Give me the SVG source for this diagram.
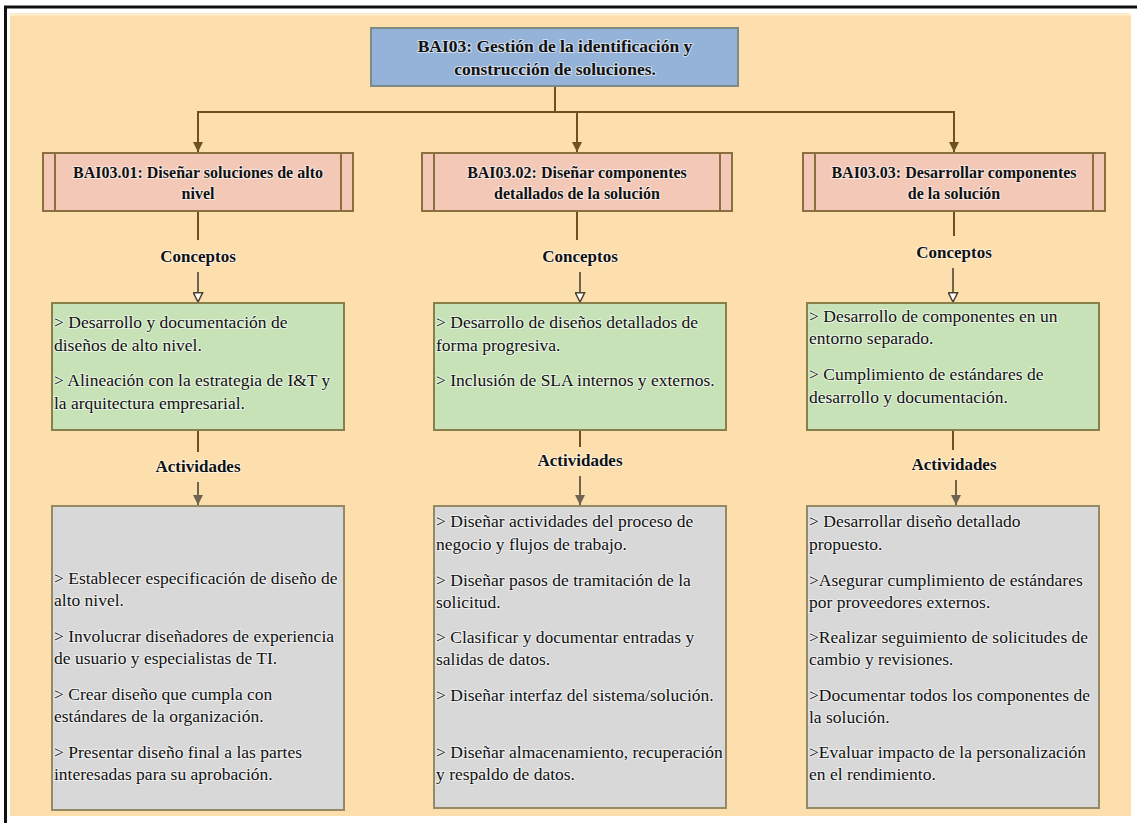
<svg xmlns="http://www.w3.org/2000/svg" width="1137" height="823" viewBox="0 0 1137 823">
  <style>
    text { font-family: "Liberation Serif", "Times New Roman", serif; fill: #111; paint-order: stroke; stroke: #ffffff; stroke-opacity: 0.55; stroke-width: 2.2px; stroke-linejoin: round; }
    .title { font-size: 17.5px; font-weight: bold; text-anchor: middle; }
    .head { font-size: 16px; font-weight: bold; text-anchor: middle; }
    .label { font-size: 17px; font-weight: bold; text-anchor: middle; }
    .body { font-size: 17.5px; }
    .root { fill: #95b3d8; stroke: #7e8a86; stroke-width: 2; }
    .proc { fill: #f3c8b7; stroke: #8b6f3e; stroke-width: 2; }
    .bar { stroke: #8b6f3e; stroke-width: 2; fill: none; }
    .concept { fill: #c6e2b6; stroke: #87804a; stroke-width: 2; }
    .activity { fill: #d8d8d8; stroke: #948a66; stroke-width: 2; }
    .wire { stroke: #6d5120; stroke-width: 2; fill: none; }
    .wire-grey { stroke: #6f6450; stroke-width: 2; fill: none; }
  </style>
  <defs>
    <marker id="arrow-solid" viewBox="0 0 10 10" refX="10" refY="5" markerWidth="5" markerHeight="5" orient="auto" markerUnits="strokeWidth">
      <path d="M0,0 L10,5 L0,10 z" fill="#6d5120"/>
    </marker>
    <marker id="arrow-grey" viewBox="0 0 10 10" refX="10" refY="5" markerWidth="5" markerHeight="5" orient="auto" markerUnits="strokeWidth">
      <path d="M0,0 L10,5 L0,10 z" fill="#6f6450"/>
    </marker>
    <marker id="arrow-open" viewBox="0 0 12 12" refX="11" refY="6" markerWidth="5.5" markerHeight="5.5" orient="auto" markerUnits="strokeWidth">
      <path d="M1,1 L11,6 L1,11 z" fill="#ffffff" stroke="#4a4030" stroke-width="1.6"/>
    </marker>
  </defs>

  <!-- page frame -->
  <rect x="0" y="0" width="1137" height="823" fill="#ffffff"/>
  <rect x="10" y="13" width="1121" height="803" fill="#fddead"/>
  <line x1="10" y1="14.5" x2="1131" y2="14.5" stroke="#fff0d6" stroke-width="2"/>
  <polyline points="5.5,823 5.5,7 1137,7" fill="none" stroke="#111" stroke-width="3"/>

  <!-- connectors -->
  <g id="connectors">
    <polyline class="wire" points="555,86 555,112"/>
    <polyline class="wire" points="198,152 198,112 954,112 954,152" marker-end="url(#arrow-solid)"/>
    <line class="wire" x1="198" y1="112" x2="198" y2="152" marker-end="url(#arrow-solid)"/>
    <line class="wire" x1="577" y1="112" x2="577" y2="152" marker-end="url(#arrow-solid)"/>

    <line class="wire" x1="198" y1="211" x2="198" y2="240"/>
    <line class="wire" x1="577" y1="211" x2="577" y2="240"/>
    <line class="wire" x1="954" y1="211" x2="954" y2="236"/>

    <line class="wire-grey" x1="198" y1="272" x2="198" y2="302" marker-end="url(#arrow-open)"/>
    <line class="wire-grey" x1="580" y1="272" x2="580" y2="302" marker-end="url(#arrow-open)"/>
    <line class="wire-grey" x1="953" y1="268" x2="953" y2="302" marker-end="url(#arrow-open)"/>

    <line class="wire" x1="198" y1="430" x2="198" y2="452"/>
    <line class="wire" x1="580" y1="430" x2="580" y2="447"/>
    <line class="wire" x1="953" y1="430" x2="953" y2="450"/>

    <line class="wire-grey" x1="198" y1="482" x2="198" y2="505" marker-end="url(#arrow-grey)"/>
    <line class="wire-grey" x1="580" y1="476" x2="580" y2="505" marker-end="url(#arrow-grey)"/>
    <line class="wire-grey" x1="956" y1="480" x2="956" y2="505" marker-end="url(#arrow-grey)"/>
  </g>

  <!-- root process -->
  <g id="bai03">
    <rect class="root" x="371" y="28" width="367" height="58"/>
    <text class="title" x="555" y="52">BAI03: Gestión de la identificación y</text>
    <text class="title" x="555" y="75">construcción de soluciones.</text>
  </g>

  <!-- practice BAI03.01 -->
  <g id="bai03-01">
    <rect class="proc" x="43" y="153" width="310" height="58"/>
    <line class="bar" x1="55" y1="153" x2="55" y2="211"/>
    <line class="bar" x1="341" y1="153" x2="341" y2="211"/>
    <text class="head" x="198" y="178">BAI03.01: Diseñar soluciones de alto</text>
    <text class="head" x="198" y="199">nivel</text>
  </g>

  <!-- practice BAI03.02 -->
  <g id="bai03-02">
    <rect class="proc" x="422" y="153" width="310" height="58"/>
    <line class="bar" x1="434" y1="153" x2="434" y2="211"/>
    <line class="bar" x1="720" y1="153" x2="720" y2="211"/>
    <text class="head" x="577" y="178">BAI03.02: Diseñar componentes</text>
    <text class="head" x="577" y="199">detallados de la solución</text>
  </g>

  <!-- practice BAI03.03 -->
  <g id="bai03-03">
    <rect class="proc" x="803" y="153" width="302" height="58"/>
    <line class="bar" x1="815" y1="153" x2="815" y2="211"/>
    <line class="bar" x1="1093" y1="153" x2="1093" y2="211"/>
    <text class="head" x="954" y="178">BAI03.03: Desarrollar componentes</text>
    <text class="head" x="954" y="199">de la solución</text>
  </g>

  <!-- section labels -->
  <g id="labels">
    <text class="label" x="198" y="262">Conceptos</text>
    <text class="label" x="580" y="262">Conceptos</text>
    <text class="label" x="954" y="258">Conceptos</text>
    <text class="label" x="198" y="472">Actividades</text>
    <text class="label" x="580" y="466">Actividades</text>
    <text class="label" x="954" y="470">Actividades</text>
  </g>

  <!-- concepts -->
  <g id="conceptos-01">
    <rect class="concept" x="52" y="303" width="292" height="127"/>
    <text class="body" x="54" y="328">&gt; Desarrollo y documentación de</text>
    <text class="body" x="54" y="351">diseños de alto nivel.</text>
    <text class="body" x="54" y="386">&gt; Alineación con la estrategia de I&amp;T y</text>
    <text class="body" x="54" y="409">la arquitectura empresarial.</text>
  </g>
  <g id="conceptos-02">
    <rect class="concept" x="434" y="303" width="292" height="127"/>
    <text class="body" x="436" y="328">&gt; Desarrollo de diseños detallados de</text>
    <text class="body" x="436" y="351">forma progresiva.</text>
    <text class="body" x="436" y="386">&gt; Inclusión de SLA internos y externos.</text>
  </g>
  <g id="conceptos-03">
    <rect class="concept" x="807" y="303" width="292" height="127"/>
    <text class="body" x="809" y="322">&gt; Desarrollo de componentes en un</text>
    <text class="body" x="809" y="344">entorno separado.</text>
    <text class="body" x="809" y="380">&gt; Cumplimiento de estándares de</text>
    <text class="body" x="809" y="403">desarrollo y documentación.</text>
  </g>

  <!-- activities -->
  <g id="actividades-01">
    <rect class="activity" x="52" y="506" width="292" height="304"/>
    <text class="body" x="54" y="584">&gt; Establecer especificación de diseño de</text>
    <text class="body" x="54" y="606">alto nivel.</text>
    <text class="body" x="54" y="642">&gt; Involucrar diseñadores de experiencia</text>
    <text class="body" x="54" y="664">de usuario y especialistas de TI.</text>
    <text class="body" x="54" y="700">&gt; Crear diseño que cumpla con</text>
    <text class="body" x="54" y="722">estándares de la organización.</text>
    <text class="body" x="54" y="758">&gt; Presentar diseño final a las partes</text>
    <text class="body" x="54" y="780">interesadas para su aprobación.</text>
  </g>
  <g id="actividades-02">
    <rect class="activity" x="434" y="506" width="292" height="302"/>
    <text class="body" x="436" y="527">&gt; Diseñar actividades del proceso de</text>
    <text class="body" x="436" y="550">negocio y flujos de trabajo.</text>
    <text class="body" x="436" y="586">&gt; Diseñar pasos de tramitación de la</text>
    <text class="body" x="436" y="608">solicitud.</text>
    <text class="body" x="436" y="643">&gt; Clasificar y documentar entradas y</text>
    <text class="body" x="436" y="665">salidas de datos.</text>
    <text class="body" x="436" y="701">&gt; Diseñar interfaz del sistema/solución.</text>
    <text class="body" x="436" y="758">&gt; Diseñar almacenamiento, recuperación</text>
    <text class="body" x="436" y="780">y respaldo de datos.</text>
  </g>
  <g id="actividades-03">
    <rect class="activity" x="807" y="506" width="292" height="302"/>
    <text class="body" x="809" y="527">&gt; Desarrollar diseño detallado</text>
    <text class="body" x="809" y="550">propuesto.</text>
    <text class="body" x="809" y="586">&gt;Asegurar cumplimiento de estándares</text>
    <text class="body" x="809" y="608">por proveedores externos.</text>
    <text class="body" x="809" y="643">&gt;Realizar seguimiento de solicitudes de</text>
    <text class="body" x="809" y="665">cambio y revisiones.</text>
    <text class="body" x="809" y="701">&gt;Documentar todos los componentes de</text>
    <text class="body" x="809" y="723">la solución.</text>
    <text class="body" x="809" y="758">&gt;Evaluar impacto de la personalización</text>
    <text class="body" x="809" y="780">en el rendimiento.</text>
  </g>
</svg>
